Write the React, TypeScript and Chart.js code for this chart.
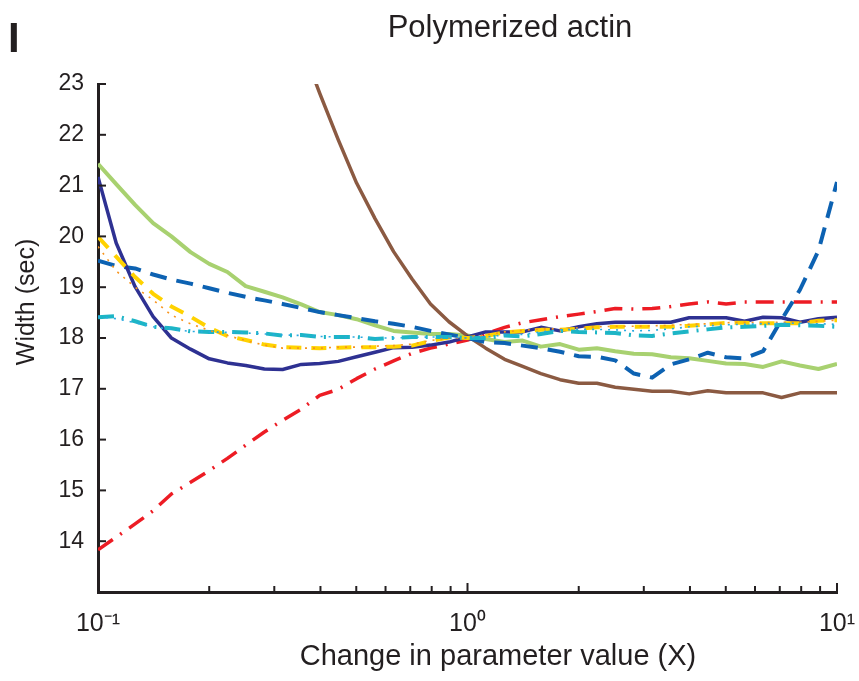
import React, { useEffect, useRef } from 'react';
import { Chart, registerables } from 'chart.js';

Chart.register(...registerables);

// ---------- data ----------
const xValues = [
  0.1, 0.112, 0.126, 0.141, 0.158, 0.178, 0.2, 0.224, 0.251, 0.282,
  0.316, 0.355, 0.398, 0.447, 0.501, 0.562, 0.631, 0.708, 0.794, 0.891,
  1, 1.12, 1.26, 1.41, 1.58, 1.78, 2, 2.24, 2.51, 2.82,
  3.16, 3.55, 3.98, 4.47, 5.01, 5.62, 6.31, 7.08, 7.94, 8.91, 10,
];

const navySolid = [
  21.17, 19.87, 19.01, 18.42, 18.0, 17.78, 17.59, 17.51, 17.46, 17.39,
  17.38, 17.48, 17.5, 17.54, 17.63, 17.72, 17.81, 17.82, 17.86, 17.92,
  18.02, 18.12, 18.12, 18.12, 18.21, 18.14, 18.22, 18.28, 18.31, 18.31,
  18.31, 18.31, 18.4, 18.4, 18.4, 18.33, 18.41, 18.4, 18.31, 18.38, 18.41,
];

const greenSolid = [
  21.43, 21.03, 20.62, 20.26, 20.0, 19.69, 19.46, 19.3, 19.02, 18.91,
  18.8, 18.66, 18.51, 18.45, 18.37, 18.25, 18.14, 18.11, 18.08, 18.08,
  18.05, 17.98, 17.92, 17.95, 17.83, 17.88, 17.77, 17.8, 17.74, 17.69,
  17.68, 17.62, 17.6, 17.55, 17.5, 17.49, 17.43, 17.54, 17.46, 17.39, 17.49,
];

const brownSolid = [
  null, null, null, null, null, null, null, null, null, null,
  null, 23.78, 22.82, 21.9, 21.05, 20.35, 19.7, 19.16, 18.67, 18.32,
  18.04, 17.8, 17.58, 17.44, 17.3, 17.18, 17.11, 17.11, 17.03, 16.99,
  16.95, 16.95, 16.9, 16.96, 16.92, 16.92, 16.92, 16.83, 16.92, 16.92, 16.92,
];

const redDashDot = [
  13.83, 14.08, 14.34, 14.6, 14.93, 15.16, 15.39, 15.63, 15.89, 16.15,
  16.38, 16.6, 16.87, 16.99, 17.2, 17.39, 17.55, 17.7, 17.8, 17.88,
  17.96, 18.08, 18.21, 18.3, 18.36, 18.42, 18.47, 18.52, 18.58, 18.57,
  18.58, 18.62, 18.67, 18.71, 18.67, 18.71, 18.71, 18.71, 18.71, 18.71, 18.71,
];

const blueDashed = [
  19.52, 19.42, 19.37, 19.25, 19.15, 19.07, 18.98, 18.89, 18.81, 18.74,
  18.67, 18.59, 18.51, 18.45, 18.39, 18.33, 18.28, 18.22, 18.14, 18.07,
  18.0, 17.92, 17.9, 17.85, 17.8, 17.73, 17.64, 17.63, 17.56, 17.3,
  17.22, 17.48, 17.58, 17.71, 17.62, 17.6, 17.74, 18.36, 18.95, 19.72, 21.07,
];

const yellowDashed = [
  19.99, 19.6, 19.2, 18.87, 18.62, 18.42, 18.2, 18.04, 17.96, 17.87,
  17.82, 17.81, 17.8, 17.81, 17.82, 17.82, 17.83, 17.85, 17.94, 18.01,
  18.0, 18.04, 18.11, 18.14, 18.16, 18.16, 18.18, 18.21, 18.22, 18.22,
  18.22, 18.22, 18.24, 18.27, 18.3, 18.3, 18.29, 18.29, 18.29, 18.34, 18.35,
];

const orangeDotted = [
  19.8, 19.32, 19.0, 18.75, 18.45, 18.28, 18.15, 18.05, 17.95, 17.86,
  17.8, 17.8, 17.8, 17.82, 17.82, 17.84, 17.85, 17.88, 17.95, 18.0,
  18.0, 18.06, 18.12, 18.15, 18.18, 18.18, 18.2, 18.22, 18.23, 18.23,
  18.24, 18.25, 18.27, 18.28, 18.3, 18.31, 18.3, 18.31, 18.31, 18.33, 18.35,
];

const cyanDashDot = [
  18.41, 18.43, 18.33, 18.22, 18.19, 18.13, 18.12, 18.12, 18.11, 18.09,
  18.05, 18.06, 18.02, 18.02, 18.02, 17.98, 18.0, 18.02, 18.02, 18.02,
  18.0, 18.0, 18.05, 18.03, 18.08, 18.14, 18.12, 18.11, 18.1, 18.05,
  18.04, 18.09, 18.13, 18.17, 18.21, 18.22, 18.24, 18.26, 18.25, 18.24, 18.22,
];

const lightBlueDotted = [
  18.42, 18.38, 18.3, 18.22, 18.17, 18.13, 18.12, 18.11, 18.1, 18.08,
  18.06, 18.05, 18.03, 18.02, 18.02, 18.0, 18.0, 18.01, 18.02, 18.02,
  18.0, 18.02, 18.06, 18.07, 18.12, 18.16, 18.17, 18.17, 18.16, 18.14,
  18.15, 18.18, 18.22, 18.24, 18.26, 18.27, 18.28, 18.29, 18.29, 18.28, 18.27,
];

const xMajorTicks = [0.1, 1, 10];
const xTickLabels = ['10\u207B\u00B9', '10\u2070', '10\u00B9'];
const xMinorTicks = [0.2, 0.3, 0.4, 0.5, 0.6, 0.7, 0.8, 0.9, 2, 3, 4, 5, 6, 7, 8, 9];
const yTickValues = [13, 14, 15, 16, 17, 18, 19, 20, 21, 22, 23];
const yMin = 13;
const yMax = 23;

const chartTitle = 'Polymerized actin';
const panelLabel = 'I';
const xAxisTitle = 'Change in parameter value (X)';
const yAxisTitle = 'Width (sec)';

const FONT = '"Liberation Sans", Arial, Helvetica, sans-serif';
const INK = '#231f20';

const toPoints = (ys: (number | null)[]) => xValues.map((x, i) => ({ x, y: ys[i] }));

const decorPlugin = {
  id: 'decor',
  afterDraw(chart: any) {
    const { ctx, chartArea, scales } = chart;
    const xs = scales.x;
    const ys = scales.y;
    ctx.save();
    ctx.strokeStyle = INK;
    ctx.lineWidth = 2;
    ctx.lineCap = 'butt';
    const line = (x1: number, y1: number, x2: number, y2: number) => {
      ctx.beginPath();
      ctx.moveTo(x1, y1);
      ctx.lineTo(x2, y2);
      ctx.stroke();
    };
    for (const v of yTickValues) {
      const py = ys.getPixelForValue(v);
      line(chartArea.left, py, chartArea.left + 8, py);
    }
    for (const v of xMajorTicks) {
      const px = xs.getPixelForValue(v);
      line(px, chartArea.bottom, px, chartArea.bottom - 9);
    }
    for (const v of xMinorTicks) {
      const px = xs.getPixelForValue(v);
      line(px, chartArea.bottom, px, chartArea.bottom - 6);
    }

    ctx.fillStyle = INK;
    ctx.textBaseline = 'alphabetic';
    ctx.textAlign = 'center';
    ctx.font = `31px ${FONT}`;
    ctx.fillText(chartTitle, 510, 37);

    ctx.textAlign = 'left';
    ctx.font = `bold 42px ${FONT}`;
    ctx.fillText(panelLabel, 8, 52);

    ctx.textAlign = 'center';
    ctx.font = `29px ${FONT}`;
    ctx.fillText(xAxisTitle, 498, 665);

    ctx.translate(34, 302);
    ctx.rotate(-Math.PI / 2);
    ctx.font = `25px ${FONT}`;
    ctx.fillText(yAxisTitle, 0, 0);
    ctx.restore();
  },
};

export default function App() {
  const canvasRef = useRef<HTMLCanvasElement | null>(null);

  useEffect(() => {
    const canvas = canvasRef.current;
    if (!canvas) return;
    const mk = (label: string, data: (number | null)[], color: string, width: number, dash: number[]) => ({
      label,
      data: toPoints(data),
      borderColor: color,
      backgroundColor: color,
      borderWidth: width,
      borderDash: dash,
      borderCapStyle: 'butt' as const,
      borderJoinStyle: 'round' as const,
      pointRadius: 0,
      tension: 0,
      fill: false,
      spanGaps: false,
    });
    const chart = new Chart(canvas, {
      type: 'line',
      data: {
        datasets: [
          mk('lightblue', lightBlueDotted, '#29a9e1', 1.6, [2, 6]),
          mk('orange', orangeDotted, '#f7941d', 1.6, [2, 6]),
          mk('cyan', cyanDashDot, '#1db5c6', 4, [16, 8, 2, 8]),
          mk('yellow', yellowDashed, '#ffd200', 4, [15, 10]),
          mk('navy', navySolid, '#2e3192', 3.5, []),
          mk('blue', blueDashed, '#0d62b2', 4, [17, 10]),
          mk('red', redDashDot, '#ed1c24', 3.5, [18, 9, 2, 9]),
          mk('brown', brownSolid, '#8b5a42', 3.5, []),
          mk('green', greenSolid, '#a8d170', 4, []),
        ],
      },
      options: {
        responsive: false,
        animation: false,
        devicePixelRatio: 1,
        layout: { padding: { left: 0, top: 84, right: 22, bottom: 0 } },
        plugins: {
          legend: { display: false },
          title: { display: false },
          tooltip: { enabled: false },
        },
        scales: {
          x: {
            type: 'logarithmic',
            min: 0.1,
            max: 10,
            grid: { display: false, drawTicks: false },
            border: { display: true, color: INK, width: 3 },
            afterBuildTicks: (scale: any) => {
              scale.ticks = xMajorTicks.map((v) => ({ value: v, major: true }));
            },
            afterFit: (scale: any) => {
              scale.height = 89;
              scale.paddingLeft = 0;
              scale.paddingRight = 0;
            },
            ticks: {
              autoSkip: false,
              maxRotation: 0,
              padding: 17,
              color: INK,
              font: { family: FONT, size: 25 },
              callback: (_v: any, i: number) => xTickLabels[i],
            },
          },
          y: {
            type: 'linear',
            min: yMin,
            max: yMax,
            grid: { display: false, drawTicks: false },
            border: { display: true, color: INK, width: 3 },
            afterBuildTicks: (scale: any) => {
              scale.ticks = yTickValues.map((v) => ({ value: v }));
            },
            afterFit: (scale: any) => {
              scale.width = 98;
              scale.paddingTop = 0;
              scale.paddingBottom = 0;
            },
            ticks: {
              autoSkip: false,
              padding: 14,
              color: INK,
              font: { family: FONT, size: 23 },
              callback: (v: any) => (v === yMin ? '' : String(v)),
            },
          },
        },
      },
      plugins: [decorPlugin],
    });
    return () => chart.destroy();
  }, []);

  return (
    <div style={{ position: 'fixed', left: 0, top: 0, width: 859, height: 681, background: '#fff' }}>
      <canvas ref={canvasRef} width={859} height={681} style={{ width: 859, height: 681, display: 'block' }} />
    </div>
  );
}
